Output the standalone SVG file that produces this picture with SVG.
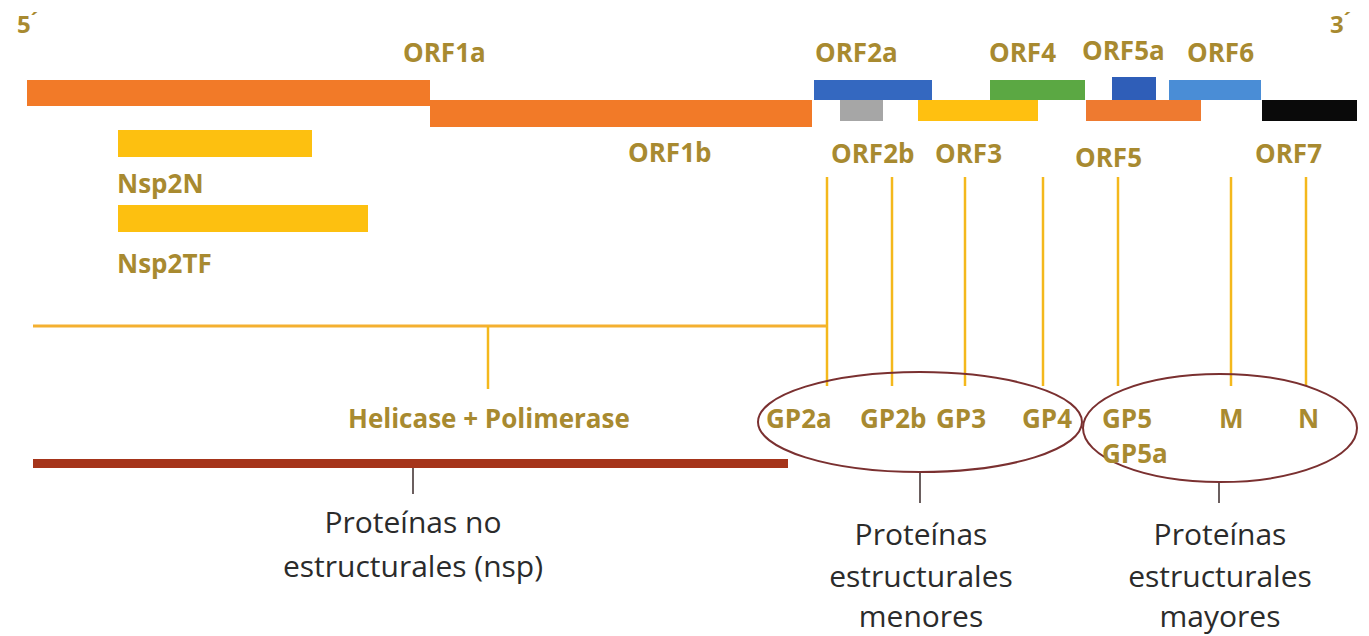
<svg xmlns="http://www.w3.org/2000/svg" width="1369" height="636" viewBox="0 0 1369 636">
<style>
.lbl{font-family:"Open Sans","Liberation Sans",sans-serif;font-weight:bold;font-size:26px;fill:#A88A30}
.end{font-family:"Open Sans","Liberation Sans",sans-serif;font-weight:bold;font-size:24px;fill:#A88A30}
.cat{font-family:"Open Sans","Liberation Sans",sans-serif;font-size:30px;fill:#2b2b2b;text-anchor:middle}
.vl{stroke:#F4B81C;stroke-width:2.5;fill:none}
.tick{stroke:#3a2a2a;stroke-width:1.5;fill:none}
.ell{fill:none;stroke:#7A3030;stroke-width:2}
</style>
<rect x="0" y="0" width="1369" height="636" fill="#ffffff"/>
<g id="ends">
<text class="end" x="17" y="33">5<tspan font-size="20" dy="-6">´</tspan></text>
<text class="end" x="1330" y="33">3<tspan font-size="20" dy="-6">´</tspan></text>
</g>
<g id="orf1a"><rect x="27" y="80" width="403" height="26" fill="#F27A28"/><text class="lbl" x="403" y="62">ORF1a</text></g>
<g id="orf1b"><rect x="430" y="100" width="382" height="27" fill="#F27A28"/><text class="lbl" x="628" y="162">ORF1b</text></g>
<g id="orf2a"><rect x="814" y="80" width="118" height="20" fill="#3468C0"/><text class="lbl" x="815" y="62">ORF2a</text></g>
<g id="orf2b"><rect x="840" y="100" width="43" height="21" fill="#A6A6A6"/><text class="lbl" x="831" y="163">ORF2b</text></g>
<g id="orf3"><rect x="918" y="100" width="120" height="21" fill="#FFC010"/><text class="lbl" x="935" y="163">ORF3</text></g>
<g id="orf4"><rect x="990" y="80" width="95" height="20" fill="#5BA843"/><text class="lbl" x="989" y="62">ORF4</text></g>
<g id="orf5a"><rect x="1112" y="77" width="44" height="23" fill="#2F5EB8"/><text class="lbl" x="1082" y="60">ORF5a</text></g>
<g id="orf6"><rect x="1169" y="80" width="92" height="20" fill="#4A8DD6"/><text class="lbl" x="1187" y="62">ORF6</text></g>
<g id="orf5"><rect x="1086" y="100" width="115" height="21" fill="#EE7A30"/><text class="lbl" x="1075" y="167">ORF5</text></g>
<g id="orf7"><rect x="1262" y="100" width="95" height="21" fill="#0A0A0A"/><text class="lbl" x="1255" y="163">ORF7</text></g>
<g id="nsp2n"><rect x="118" y="130" width="194" height="27" fill="#FDC010"/><text class="lbl" x="117" y="193">Nsp2N</text></g>
<g id="nsp2tf"><rect x="118" y="205" width="250" height="27" fill="#FDC010"/><text class="lbl" x="117" y="273">Nsp2TF</text></g>
<g id="connectors">
<line class="vl" x1="827" y1="177" x2="827" y2="386"/>
<line class="vl" x1="892" y1="177" x2="892" y2="386"/>
<line class="vl" x1="965" y1="177" x2="965" y2="386"/>
<line class="vl" x1="1043" y1="177" x2="1043" y2="386"/>
<line class="vl" x1="1118" y1="177" x2="1118" y2="386"/>
<line class="vl" x1="1231" y1="177" x2="1231" y2="386"/>
<line class="vl" x1="1306" y1="177" x2="1306" y2="386"/>
<line x1="33" y1="326" x2="826" y2="326" stroke="#F4B030" stroke-width="3"/>
<line class="vl" x1="488" y1="326" x2="488" y2="389" stroke-width="2"/>
<line class="tick" x1="413" y1="467" x2="413" y2="494"/>
<line class="tick" x1="920" y1="472" x2="920" y2="503"/>
<line class="tick" x1="1219" y1="481" x2="1219" y2="503"/>
</g>
<g id="helicase"><text class="lbl" x="348" y="428">Helicase + Polimerase</text></g>
<g id="nsp-bar"><rect x="33" y="459" width="755" height="9" fill="#A5341A"/></g>
<g id="menores">
<ellipse class="ell" cx="920" cy="422" rx="162" ry="50"/>
<text class="lbl" x="766" y="428">GP2a</text>
<text class="lbl" x="860" y="428">GP2b</text>
<text class="lbl" x="936" y="428">GP3</text>
<text class="lbl" x="1022" y="428">GP4</text>
</g>
<g id="mayores">
<ellipse class="ell" cx="1220" cy="428" rx="137" ry="54"/>
<text class="lbl" x="1102" y="428">GP5</text>
<text class="lbl" x="1102" y="463">GP5a</text>
<text class="lbl" x="1219" y="428">M</text>
<text class="lbl" x="1298" y="428">N</text>
</g>
<g id="cat-nsp"><text class="cat" x="413" y="533">Proteínas no</text><text class="cat" x="413" y="577">estructurales (nsp)</text></g>
<g id="cat-menores"><text class="cat" x="921" y="545">Proteínas</text><text class="cat" x="921" y="587">estructurales</text><text class="cat" x="921" y="627">menores</text></g>
<g id="cat-mayores"><text class="cat" x="1220" y="545">Proteínas</text><text class="cat" x="1220" y="587">estructurales</text><text class="cat" x="1220" y="627">mayores</text></g>
</svg>
